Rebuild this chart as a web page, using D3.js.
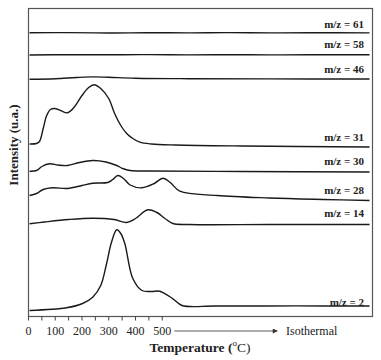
<!DOCTYPE html>
<html>
<head>
<meta charset="utf-8">
<script src="https://cdn.jsdelivr.net/npm/d3@7"></script>
<style>
  html, body { margin: 0; padding: 0; background: #fff; }
  svg { display: block; }
  text { font-family: "Liberation Serif", "DejaVu Serif", serif; fill: #222; }
</style>
</head>
<body>
<svg id="chart" width="381" height="360"></svg>
<script>
// ---- Data (temperature °C, stacked intensity a.u.) ----
const seriesLabels = ["m/z = 61", "m/z = 58", "m/z = 46", "m/z = 31", "m/z = 30", "m/z = 28", "m/z = 14", "m/z = 2"];
const labelLevels = [293, 272.7, 247.7, 180, 156, 126.7, 103.3, 14.3];

const mz61 = [[4,283.7],[150,283.9],[300,283.5],[450,283.8],[600,283.6],[750,283.9],[900,283.6],[1050,283.8],[1275,283.6]];
const mz58 = [[4,261.5],[150,261.8],[300,261.7],[450,261.9],[600,261.6],[750,261.8],[900,261.6],[1050,261.8],[1275,261.7]];
const mz46 = [[4,237.2],[100,237.8],[180,239],[240,239.6],[300,239.2],[400,238.3],[600,237.8],[900,237.6],[1275,237.5]];
const mz31 = [[4,172.5],[30,173],[41,175],[55,188],[68,201],[82,207],[97,208],[120,206],[146,203.7],[170,209],[200,221],[225,229],[245,231.7],[270,228],[300,218],[322,203],[345,191],[367,183],[390,178],[416,174.3],[460,172.5],[550,171.5],[800,170.5],[1275,169.5]];
const mz30 = [[4,145.3],[30,146],[50,150],[79,152.7],[110,151.5],[146,151],[190,154],[240,156],[290,154.5],[330,151],[352,148],[380,146],[450,145.5],[800,145],[1275,144.5]];
const mz28 = [[4,121],[30,123],[55,127],[90,128.7],[146,128],[200,131],[240,133.3],[296,134],[315,137],[334,141],[355,138],[380,131.5],[424,128.7],[470,133],[502,138.3],[530,134],[566,125.3],[705,121],[900,118.5],[1100,117],[1275,116]];
const mz14 = [[4,92.7],[60,94.5],[150,97],[240,98.3],[320,97],[367,94],[400,98],[446,106.7],[480,104],[510,98],[540,93],[600,92],[900,92],[1275,92]];
const mz2  = [[4,6],[142,8.7],[202,13],[240,19.3],[270,31],[292,53],[310,74],[330,86.7],[345,83],[360,73],[390,38],[424,26],[460,25],[491,25.3],[540,17.7],[574,11],[700,10.5],[1000,10.6],[1275,10.5]];

const allSeries = [mz61, mz58, mz46, mz31, mz30, mz28, mz14, mz2];
const xTicks = [0, 100, 200, 300, 400, 500];
const xMinorTicks = [0, 50, 100, 150, 200, 250, 300, 350, 400, 450, 500];

// ---- Layout ----
const svg = d3.select("#chart");
const margin = { left: 28.5, right: 8.5, top: 8.5, bottom: 43.5 };
const W = 381, H = 360;
const x = d3.scaleLinear().domain([0, 1286]).range([margin.left, W - margin.right]);
const y = d3.scaleLinear().domain([0, 308]).range([H - margin.bottom, margin.top]);

// frame
svg.append("rect")
  .attr("x", margin.left).attr("y", margin.top)
  .attr("width", W - margin.left - margin.right)
  .attr("height", H - margin.top - margin.bottom)
  .attr("fill", "none").attr("stroke", "#555").attr("stroke-width", 1.2);

// bottom axis ticks
const axisY = H - margin.bottom;
svg.append("g").selectAll("line").data(xMinorTicks).join("line")
  .attr("x1", d => x(d)).attr("x2", d => x(d))
  .attr("y1", axisY).attr("y2", axisY + 4)
  .attr("stroke", "#444").attr("stroke-width", 1);

svg.append("g").selectAll("text").data(xTicks).join("text")
  .attr("x", d => x(d)).attr("y", 335)
  .attr("text-anchor", "middle")
  .attr("font-size", 12)
  .attr("fill", "#333")
  .text(d => d);

// Isothermal arrow
const defs = svg.append("defs");
defs.append("marker").attr("id", "arr")
  .attr("viewBox", "0 0 10 10").attr("refX", 9).attr("refY", 5)
  .attr("markerWidth", 7).attr("markerHeight", 5).attr("orient", "auto")
  .attr("markerUnits", "userSpaceOnUse")
  .append("path").attr("d", "M0,0 L10,5 L0,10 Z").attr("fill", "#333");
svg.append("line")
  .attr("x1", x(545)).attr("x2", x(930)).attr("y1", 331).attr("y2", 331)
  .attr("stroke", "#444").attr("stroke-width", 0.9)
  .attr("marker-end", "url(#arr)");
svg.append("text").attr("x", 286).attr("y", 335)
  .attr("font-size", 12).attr("fill", "#333").text("Isothermal");

// axis titles
const xt = svg.append("text").attr("x", 200).attr("y", 352)
  .attr("text-anchor", "middle").attr("font-size", 13.5).attr("font-weight", "bold");
xt.append("tspan").text("Temperature (");
xt.append("tspan").attr("font-size", 9).attr("dy", -6).attr("font-weight", "normal").text("o");
xt.append("tspan").attr("dy", 6).attr("font-weight", "normal").text("C)");

svg.append("text")
  .attr("transform", "translate(18,145) rotate(-90)")
  .attr("text-anchor", "middle").attr("font-size", 13).attr("font-weight", "bold")
  .text("Intensity (u.a.)");

// curves
const line = d3.line()
  .x(d => x(d[0])).y(d => y(d[1]))
  .curve(d3.curveCatmullRom.alpha(0.5));

svg.append("g").selectAll("path").data(allSeries).join("path")
  .attr("d", line)
  .attr("fill", "none").attr("stroke", "#1a1a1a").attr("stroke-width", 1.4);

// series labels
svg.append("g").selectAll("text").data(seriesLabels).join("text")
  .attr("x", 364).attr("y", (d, i) => y(labelLevels[i]) + 4)
  .attr("text-anchor", "end").attr("font-size", 11).attr("font-weight", "bold")
  .text(d => d);
</script>
</body>
</html>
